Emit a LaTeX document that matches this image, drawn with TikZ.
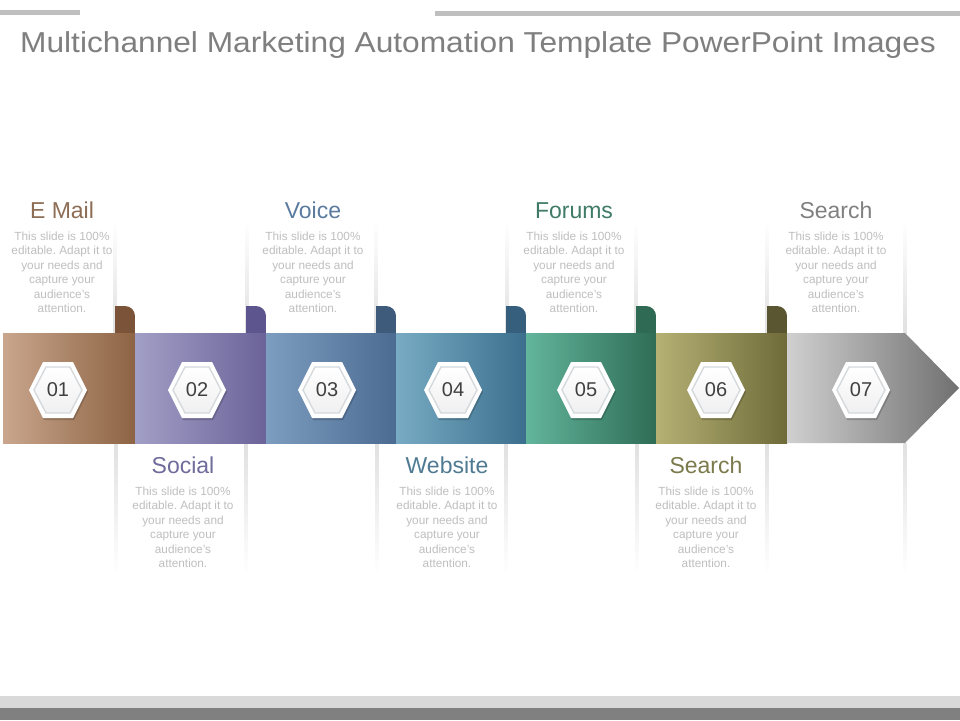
\documentclass[tikz,border=0pt]{standalone}
\usepackage{fontspec}
\setmainfont{Liberation Sans}
\newfontfamily\titlefont[FakeStretch=1.1]{Liberation Sans}
\frenchspacing
\definecolor{titlegray}{HTML}{7F7F7F}
\definecolor{bodygray}{HTML}{BFBFBF}
\definecolor{numgray}{HTML}{404040}
\definecolor{barlight}{HTML}{BFBFBF}
\definecolor{footlight}{HTML}{D9D9D9}
\definecolor{footdark}{HTML}{808080}
\definecolor{sAl}{HTML}{C9A68D}\definecolor{sAr}{HTML}{8D6343}\definecolor{tA}{HTML}{7B5338}
\definecolor{sBl}{HTML}{A29FC6}\definecolor{sBr}{HTML}{6B6399}\definecolor{tB}{HTML}{5D568E}
\definecolor{sCl}{HTML}{7D9DC0}\definecolor{sCr}{HTML}{4B6B91}\definecolor{tC}{HTML}{3E5B7C}
\definecolor{sDl}{HTML}{78ABC3}\definecolor{sDr}{HTML}{3C6F8D}\definecolor{tD}{HTML}{355F7C}
\definecolor{sEl}{HTML}{62B59B}\definecolor{sEr}{HTML}{2F6C56}\definecolor{tE}{HTML}{2F6A55}
\definecolor{sFl}{HTML}{B5B174}\definecolor{sFr}{HTML}{6F6B3A}\definecolor{tF}{HTML}{5B5632}
\definecolor{sGl}{HTML}{D0D0D0}\definecolor{sGr}{HTML}{707070}
\definecolor{hA}{HTML}{8E6D55}
\definecolor{hB}{HTML}{6F6B9B}
\definecolor{hC}{HTML}{5A7B9E}
\definecolor{hD}{HTML}{4F7A92}
\definecolor{hE}{HTML}{3F7B66}
\definecolor{hF}{HTML}{7B7A4C}
\definecolor{hG}{HTML}{808080}
\definecolor{hexline}{HTML}{D5D9DC}
\begin{document}
\begin{tikzpicture}[x=1pt,y=-1pt,
  every node/.style={inner sep=0pt},
  heading/.style={font=\fontsize{23}{27}\selectfont, anchor=base},
  bodytext/.style={font=\fontsize{11.8}{14.5}\selectfont, text=bodygray, align=center, anchor=north},
  numtext/.style={font=\fontsize{20}{22}\selectfont, text=numgray},
]
\useasboundingbox (0,0) rectangle (960,720);
\fill[white] (0,0) rectangle (960,720);
% top bars
\fill[barlight] (0,10) rectangle (80,14.5);
\fill[barlight] (435,11) rectangle (960,15.5);
% footer
\fill[footlight] (0,696) rectangle (960,708);
\fill[footdark] (0,708) rectangle (960,720);
% title
\node[font=\titlefont\fontsize{28.8}{32}\selectfont, text=titlegray, anchor=base west] (title) at (20,52) {Multichannel Marketing Automation Template PowerPoint Images};

% panel shadows (top panels)
\foreach \x in {115,247,376,507,636,767,905}{
  \shade[top color=white, bottom color=black!12] (\x-1.5,220) rectangle (\x+1.5,333);
}
% panel shadows (bottom panels)
\foreach \x in {116,246,377,506,637,767,905}{
  \shade[top color=black!12, bottom color=white] (\x-1.5,443) rectangle (\x+1.5,575);
}

% band segments
\shade[left color=sAl, right color=sAr] (3,333) rectangle (135,443);
\shade[left color=sBl, right color=sBr] (135,333) rectangle (266,443);
\shade[left color=sCl, right color=sCr] (266,333) rectangle (396,443);
\shade[left color=sDl, right color=sDr] (396,333) rectangle (526,443);
\shade[left color=sEl, right color=sEr] (526,333) rectangle (656,443);
\shade[left color=sFl, right color=sFr] (656,333) rectangle (787,443);
\shade[left color=sGl, right color=sGr] (787,333) -- (905,333) -- (959,388) -- (905,443) -- (787,443) -- cycle;

% tabs
\foreach \r/\c in {135/tA,266/tB,396/tC,526/tD,656/tE,787/tF}{
  \fill[\c] (\r-20,306) rectangle (\r-10,333);
  \fill[\c] (\r-20,316) rectangle (\r,333);
  \fill[\c] (\r-10,316) circle (10);
}

% hexagons
\foreach \cx/\n in {58/01,197/02,327/03,453/04,586/05,716/06,861/07}{
  \begin{scope}[shift={(\cx,390)}]
    \fill[black, opacity=0.18] (-28,2) -- (-14,-26) -- (16,-26) -- (30,2) -- (16,30) -- (-14,30) -- cycle;
    \fill[white] (-29,0) -- (-15,-28) -- (15,-28) -- (29,0) -- (15,28) -- (-15,28) -- cycle;
    \shade[top color=white, bottom color=black!6, draw=hexline, line width=1.4pt]
      (-24,0) -- (-12,-23) -- (12,-23) -- (24,0) -- (12,23) -- (-12,23) -- cycle;
  \end{scope}
  \node[numtext] (n\n) at (\cx,390) {\n};
}

% headings and texts
\node[heading, text=hA] (hEmail) at (62,218) {E Mail};
\node[bodytext] (bEmail) at (62,231.5) {This slide is 100\%\\editable. Adapt it to\\your needs and\\capture your\\audience's\\attention.};
\node[heading, text=hC] (hVoice) at (313,218) {Voice};
\node[bodytext] (bVoice) at (313,231.5) {This slide is 100\%\\editable. Adapt it to\\your needs and\\capture your\\audience's\\attention.};
\node[heading, text=hE] (hForums) at (574,218) {Forums};
\node[bodytext] (bForums) at (574,231.5) {This slide is 100\%\\editable. Adapt it to\\your needs and\\capture your\\audience's\\attention.};
\node[heading, text=hG] (hSearchT) at (836,218) {Search};
\node[bodytext] (bSearchT) at (836,231.5) {This slide is 100\%\\editable. Adapt it to\\your needs and\\capture your\\audience's\\attention.};

\node[heading, text=hB] (hSocial) at (183,473) {Social};
\node[bodytext] (bSocial) at (183,486.5) {This slide is 100\%\\editable. Adapt it to\\your needs and\\capture your\\audience's\\attention.};
\node[heading, text=hD] (hWebsite) at (447,473) {Website};
\node[bodytext] (bWebsite) at (447,486.5) {This slide is 100\%\\editable. Adapt it to\\your needs and\\capture your\\audience's\\attention.};
\node[heading, text=hF] (hSearchB) at (706,473) {Search};
\node[bodytext] (bSearchB) at (706,486.5) {This slide is 100\%\\editable. Adapt it to\\your needs and\\capture your\\audience's\\attention.};
\end{tikzpicture}
\end{document}
